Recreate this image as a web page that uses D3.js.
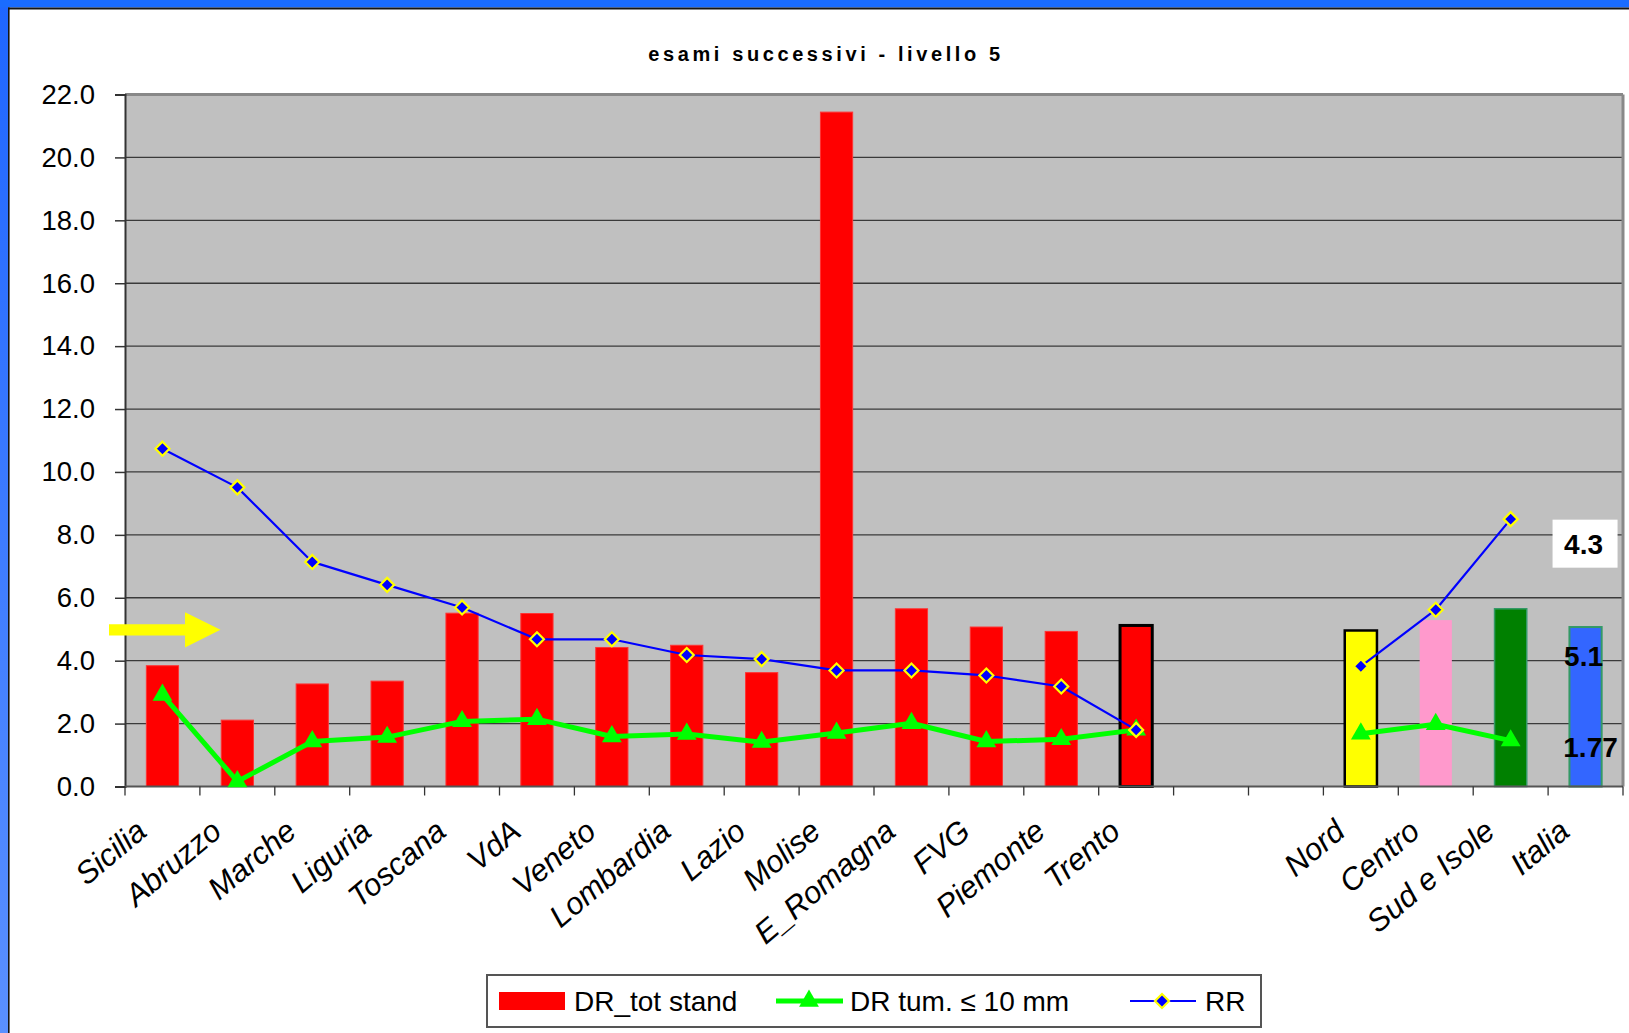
<!DOCTYPE html>
<html>
<head>
<meta charset="utf-8">
<script src="https://cdn.jsdelivr.net/npm/d3@7"></script>
<style>
html,body{margin:0;padding:0;background:#fff;}
svg{display:block;font-family:"Liberation Sans",Arial,sans-serif;}
</style>
</head>
<body>
<svg id="chart" width="1629" height="1033"></svg>
<script>
// ---- data ----
const categories = ["Sicilia","Abruzzo","Marche","Liguria","Toscana","VdA","Veneto","Lombardia","Lazio","Molise","E_Romagna","FVG","Piemonte","Trento","","","Nord","Centro","Sud e Isole","Italia"];
const drTot = [3.84,2.11,3.26,3.35,5.51,5.50,4.42,4.49,3.62,21.44,5.65,5.07,4.93,5.12,null,null,4.96,5.29,5.65,5.07];
const drTum = [2.91,0.16,1.43,1.57,2.07,2.14,1.59,1.67,1.41,1.70,2.01,1.43,1.50,1.80,null,null,1.68,1.98,1.46,null];
const rr    = [10.74,9.51,7.14,6.41,5.69,4.68,4.68,4.18,4.05,3.69,3.69,3.53,3.18,1.80,null,null,3.82,5.62,8.50,null];
const barFill   = ["#FF0000","#FF0000","#FF0000","#FF0000","#FF0000","#FF0000","#FF0000","#FF0000","#FF0000","#FF0000","#FF0000","#FF0000","#FF0000","#FF0000",null,null,"#FFFF00","#FF99CC","#008000","#3366FF"];
const barStroke = ["#FF3333","#FF3333","#FF3333","#FF3333","#FF3333","#FF3333","#FF3333","#FF3333","#FF3333","#FF3333","#FF3333","#FF3333","#FF3333","#000000",null,null,"#000000","#FF99CC","#339966","#339966"];
const barStrokeW = [1,1,1,1,1,1,1,1,1,1,1,1,1,3,0,0,2.5,0,1.5,2];
const yTicks = [0,2,4,6,8,10,12,14,16,18,20,22];
const titleText = "esami successivi - livello 5";
const legendLabels = ["DR_tot stand","DR tum. \u2264 10 mm","RR"];
const italiaNotes = [{text:"4.3", v:7.72, box:true},{text:"5.1", v:4.15, box:false},{text:"1.77", v:1.27, box:false}];
const arrowLevel = 4.98;

// ---- layout ----
const W = 1629, H = 1033;
const L = 125, R = 1623, T = 94.5, B = 786.5;
const svg = d3.select("#chart");

// frame
const defs = svg.append("defs");
const lg = defs.append("linearGradient").attr("id","leftg").attr("x1",0).attr("y1",0).attr("x2",0).attr("y2",1);
lg.append("stop").attr("offset","0%").attr("stop-color","#1f66ff");
lg.append("stop").attr("offset","100%").attr("stop-color","#5a90ff");
svg.append("rect").attr("x",0).attr("y",0).attr("width",W).attr("height",H).attr("fill","#fff");
svg.append("rect").attr("x",0).attr("y",0).attr("width",8).attr("height",H).attr("fill","url(#leftg)");
svg.append("rect").attr("x",0).attr("y",0).attr("width",W).attr("height",7.5).attr("fill","#1a6cff");
svg.append("rect").attr("x",8).attr("y",7.5).attr("width",W-8).attr("height",2).attr("fill","#151515");
svg.append("rect").attr("x",8).attr("y",7.5).attr("width",1.6).attr("height",H).attr("fill","#151515");

// scales
const x = d3.scaleBand().domain(d3.range(categories.length)).range([L,R]).paddingInner(0.57).paddingOuter(0.285);
const xStep = (R-L)/categories.length;
const y = d3.scaleLinear().domain([0,22]).range([B,T]);

// plot background
svg.append("rect").attr("x",L).attr("y",T).attr("width",R-L).attr("height",B-T).attr("fill","#C0C0C0");

// gridlines
svg.append("g").selectAll("line").data(yTicks.filter(v=>v>0&&v<22)).join("line")
  .attr("x1",L).attr("x2",R).attr("y1",d=>y(d)).attr("y2",d=>y(d))
  .attr("stroke","#3a3a3a").attr("stroke-width",1.3);

// plot border top/right
svg.append("line").attr("x1",L).attr("x2",R).attr("y1",T).attr("y2",T).attr("stroke","#888").attr("stroke-width",3);
svg.append("line").attr("x1",R).attr("x2",R).attr("y1",T).attr("y2",B).attr("stroke","#888").attr("stroke-width",3);

// bars
svg.append("g").selectAll("rect").data(drTot.map((v,i)=>({v,i})).filter(d=>d.v!=null)).join("rect")
  .attr("x",d=>x(d.i)).attr("width",x.bandwidth())
  .attr("y",d=>y(d.v)).attr("height",d=>y(0)-y(d.v))
  .attr("fill",d=>barFill[d.i])
  .attr("stroke",d=>barStrokeW[d.i]>0?barStroke[d.i]:"none")
  .attr("stroke-width",d=>barStrokeW[d.i]);

// y axis
const yAxis = d3.axisLeft(y).tickValues(yTicks).tickFormat(d3.format(".1f")).tickSize(10).tickPadding(20);
const gy = svg.append("g").attr("transform",`translate(${L},0)`).call(yAxis);
gy.select(".domain").attr("stroke","#333").attr("stroke-width",2);
gy.selectAll(".tick line").attr("stroke","#333").attr("stroke-width",1.5);
gy.selectAll(".tick text").attr("font-size",27.5).attr("fill","#000").attr("font-family","'Liberation Sans',Arial,sans-serif");

// x axis
svg.append("line").attr("x1",L).attr("x2",R).attr("y1",B).attr("y2",B).attr("stroke","#555").attr("stroke-width",2);
svg.append("g").selectAll("line").data(d3.range(categories.length+1)).join("line")
  .attr("x1",i=>L+i*xStep).attr("x2",i=>L+i*xStep).attr("y1",B).attr("y2",B+9)
  .attr("stroke","#333").attr("stroke-width",1.3);
svg.append("g").selectAll("text").data(categories.map((c,i)=>({c,i})).filter(d=>d.c)).join("text")
  .attr("transform",d=>`translate(${x(d.i)+x.bandwidth()/2-14},${B+48}) rotate(-40)`)
  .attr("text-anchor","end").attr("font-style","italic").attr("font-size",31).attr("fill","#000")
  .text(d=>d.c);

// arrow annotation
const ay = y(arrowLevel);
svg.append("path")
  .attr("d",`M${L-16},${ay-5.7} L${L+60},${ay-5.7} L${L+60},${ay-17.7} L${L+95.5},${ay} L${L+60},${ay+17.7} L${L+60},${ay+5.7} L${L-16},${ay+5.7} Z`)
  .attr("fill","#FFFF00");

// lines (segments split at nulls)
const cx = i => x(i)+x.bandwidth()/2;
function drawLine(vals,color,width){
  const line = d3.line().defined(d=>d.v!=null).x(d=>cx(d.i)).y(d=>y(d.v));
  svg.append("path").datum(vals.map((v,i)=>({v,i})))
    .attr("d",line).attr("fill","none").attr("stroke",color).attr("stroke-width",width).attr("stroke-linejoin","round");
}
drawLine(drTum,"#00FF00",5);
drawLine(rr,"#0000FF",2.2);

const tri = d3.symbol().type(d3.symbolTriangle).size(170);
svg.append("g").selectAll("path").data(drTum.map((v,i)=>({v,i})).filter(d=>d.v!=null)).join("path")
  .attr("transform",d=>`translate(${cx(d.i)},${y(d.v)})`).attr("d",tri).attr("fill","#00FF00");
function diamond(s){return `M0,${-s} L${s},0 L0,${s} L${-s},0 Z`;}
svg.append("g").selectAll("path").data(rr.map((v,i)=>({v,i})).filter(d=>d.v!=null)).join("path")
  .attr("transform",d=>`translate(${cx(d.i)},${y(d.v)})`).attr("d",diamond(7))
  .attr("fill","#0000FF").attr("stroke","#FFFF00").attr("stroke-width",2.2);

// Italia annotations
const ix = cx(categories.length-1);
italiaNotes.forEach(n=>{
  if(n.box){
    svg.append("rect").attr("x",ix-33).attr("y",y(n.v)-24).attr("width",65).attr("height",48).attr("fill","#fff");
  }
  svg.append("text").attr("x",ix+(n.text.length>3?5:-2)).attr("y",y(n.v)).attr("dy","0.36em")
    .attr("text-anchor","middle").attr("font-weight","bold").attr("font-size",28).attr("fill","#000").text(n.text);
});

// title
svg.append("text").attr("x",826).attr("y",61).attr("text-anchor","middle")
  .attr("font-weight","bold").attr("font-size",20).attr("letter-spacing","3.6px").attr("fill","#000").text(titleText);

// legend
const lgG = svg.append("g");
lgG.append("rect").attr("x",487).attr("y",975).attr("width",774).attr("height",52).attr("fill","#fff").attr("stroke","#555").attr("stroke-width",2);
const ly = 1001;
lgG.append("rect").attr("x",499).attr("y",ly-9).attr("width",66).attr("height",18).attr("fill","#FF0000");
lgG.append("text").attr("x",574).attr("y",ly).attr("dy","0.36em").attr("font-size",28).text(legendLabels[0]);
lgG.append("line").attr("x1",776).attr("x2",843).attr("y1",ly).attr("y2",ly).attr("stroke","#00FF00").attr("stroke-width",5);
lgG.append("path").attr("transform",`translate(809,${ly})`).attr("d",tri).attr("fill","#00FF00");
lgG.append("text").attr("x",850).attr("y",ly).attr("dy","0.36em").attr("font-size",28).text(legendLabels[1]);
lgG.append("line").attr("x1",1130).attr("x2",1196).attr("y1",ly).attr("y2",ly).attr("stroke","#0000FF").attr("stroke-width",2.2);
lgG.append("path").attr("transform",`translate(1162,${ly})`).attr("d",diamond(7)).attr("fill","#0000FF").attr("stroke","#FFFF00").attr("stroke-width",2.2);
lgG.append("text").attr("x",1205).attr("y",ly).attr("dy","0.36em").attr("font-size",28).text(legendLabels[2]);
</script>
</body>
</html>
